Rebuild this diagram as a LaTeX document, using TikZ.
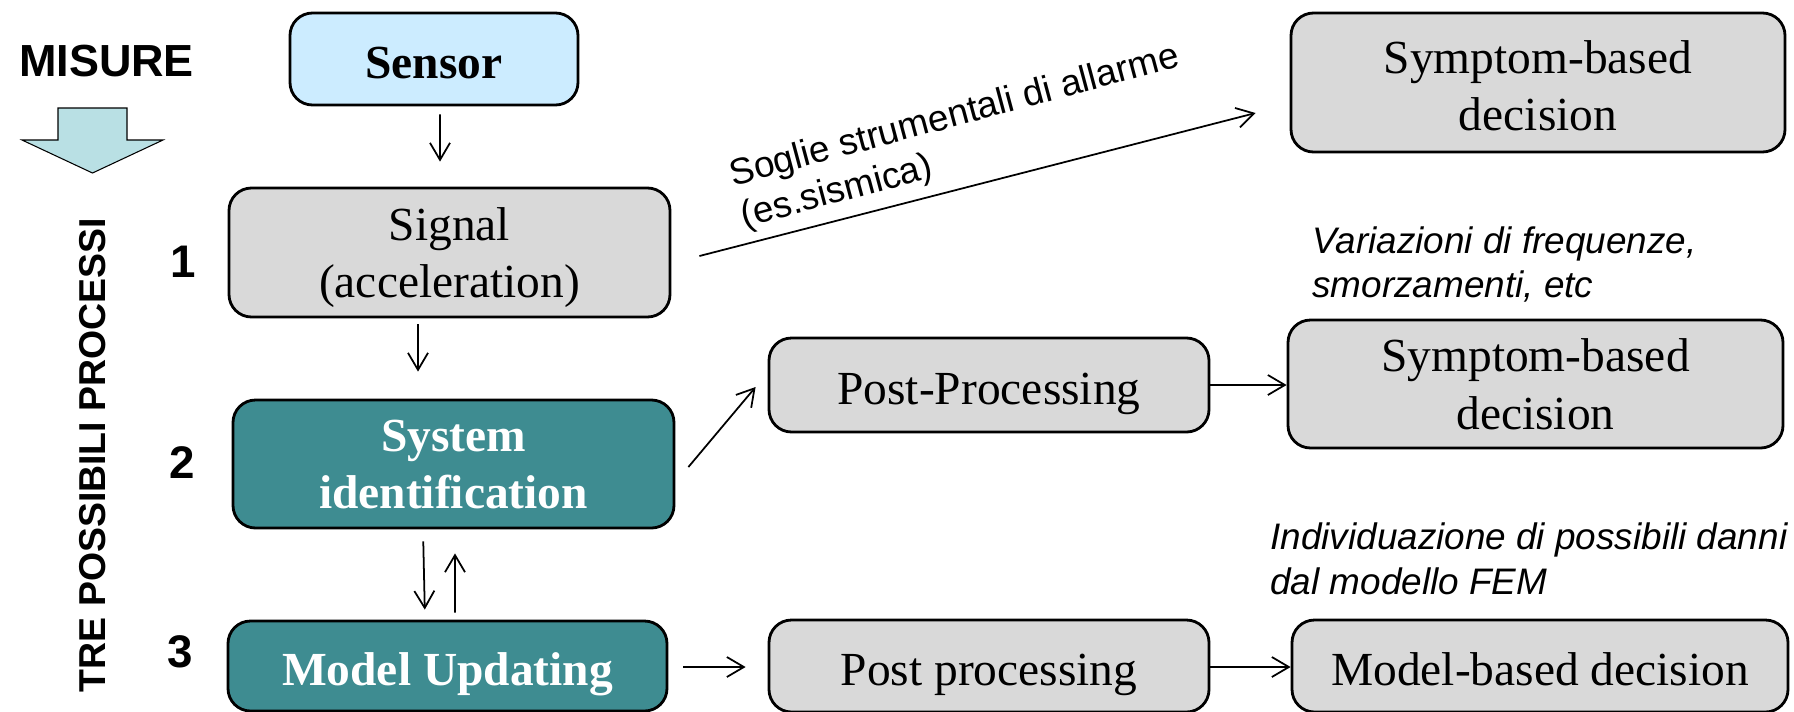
\documentclass[tikz,border=0pt]{standalone}
\usepackage{fontspec}
\setmainfont{Liberation Serif}
\setsansfont{Liberation Sans}
\usetikzlibrary{arrows.meta}

\definecolor{sensorblue}{RGB}{204,236,255}
\definecolor{boxgray}{RGB}{217,217,217}
\definecolor{idteal}{RGB}{62,140,145}
\definecolor{arrowcyan}{RGB}{185,224,228}

\begin{document}
\begin{tikzpicture}
\tikzset{box/.style={draw, line width=1.6pt, rounded corners=0.45cm, fill=boxgray, inner sep=0pt, align=center, text depth=0pt, font=\fontsize{27}{32.5}\selectfont},
  tealbox/.style={box, fill=idteal, text=white, font=\fontsize{27}{32.5}\selectfont\bfseries},
  oneline/.style={text height=0.76cm},
  note/.style={inner sep=0pt, align=left, font=\sffamily\fontsize{21}{24.5}\selectfont},
  notei/.style={note, font=\sffamily\itshape\fontsize{21}{25.5}\selectfont},
  num/.style={font=\sffamily\bfseries\fontsize{26}{30}\selectfont},
  link/.style={line width=1pt, -{Straight Barb[length=3.4mm,width=4mm]}}}
\path[use as bounding box] (0,0) rectangle (35.88,-14.22);
\clip (0,0) rectangle (35.88,-14.22);
%\draw[help lines] (0,-15) grid (36,0);

\node[num, font=\sffamily\bfseries\fontsize{25.6}{30}\selectfont] (misure) at (2.13,-1.22) {MISURE} ;
\draw[fill=arrowcyan, line width=0.6pt] (1.16,-2.16) -- (2.54,-2.16) -- (2.54,-2.80) -- (3.26,-2.80) -- (1.85,-3.46) -- (0.44,-2.80) -- (1.16,-2.80) -- cycle;
\node[rotate=90, font=\sffamily\bfseries\fontsize{21.3}{26}\selectfont] (tre) at (1.85,-9.1) {TRE POSSIBILI PROCESSI} ;

\node[num] (one) at (3.66,-5.24) {1} ;
\node[num] (two) at (3.64,-9.26) {2} ;
\node[num] (three) at (3.60,-13.03) {3} ;

\node[box, oneline, fill=sensorblue, font=\fontsize{27}{32.5}\selectfont\bfseries, minimum width=5.76cm, minimum height=1.84cm] (sensor) at (8.68,-1.18) {Sensor} ;
\node[box, minimum width=8.82cm, minimum height=2.58cm] (signal) at (8.99,-5.05) {Signal\\(acceleration)} ;
\node[tealbox, minimum width=8.82cm, minimum height=2.56cm] (sysid) at (9.07,-9.28) {System\\identification} ;
\node[tealbox, oneline, minimum width=8.78cm, minimum height=1.8cm] (updating) at (8.95,-13.32) {Model Updating} ;

\node[box, oneline, minimum width=8.8cm, minimum height=1.88cm] (postA) at (19.78,-7.70) {Post-Processing} ;
\node[box, oneline, minimum width=8.8cm, minimum height=1.84cm] (postB) at (19.78,-13.32) {Post processing} ;

\node[box, text height=1.92cm, minimum width=9.88cm, minimum height=2.78cm] (symptomA) at (30.76,-1.65) {Symptom-based\\decision} ;
\node[box, minimum width=9.9cm, minimum height=2.56cm] (symptomB) at (30.71,-7.68) {Symptom-based\\decision} ;
\node[box, oneline, minimum width=9.92cm, minimum height=1.84cm] (modeldec) at (30.80,-13.32) {Model-based decision} ;

\node[note, anchor=north west, rotate=15] (soglie) at (14.52,-3.2) {Soglie strumentali di allarme\\(es.sismica)} ;
\node[notei, anchor=north west] (variazioni) at (26.24,-4.52) {Variazioni di frequenze,\\smorzamenti, etc} ;
\node[notei, anchor=north west] (danni) at (25.4,-10.45) {Individuazione di possibili danni\\dal modello FEM} ;

\draw[link, shorten <=0.16cm, shorten >=0.5cm] ([xshift=0.12cm]sensor.south) to ([xshift=-0.19cm]signal.north);
\draw[link, shorten <=0.12cm, shorten >=0.54cm] ([xshift=-0.63cm]signal.south) to ([xshift=-0.71cm]sysid.north);
\draw[link, shorten <=0.24cm, shorten >=0.2cm] ([xshift=-0.61cm]sysid.south) to ([xshift=-0.45cm]updating.north);
\draw[link, shorten <=0.14cm, shorten >=0.48cm] ([xshift=0.15cm]updating.north) to ([xshift=0.03cm]sysid.south);
\draw[link] ([shift={(0.56cm,-0.07cm)}]signal.east) to ([shift={(-0.68cm,-0.61cm)}]symptomA.west);
\draw[link] ([shift={(0.26cm,-0.06cm)}]sysid.east) to ([shift={(-0.24cm,-0.04cm)}]postA.west);
\draw[link] (postA.east) to (postA.east -| symptomB.west);
\draw[link, shorten <=0.3cm, shorten >=0.44cm] ([yshift=-0.02cm]updating.east) to ([yshift=-0.02cm]postB.west);
\draw[link] ([yshift=-0.02cm]postB.east) to ([yshift=-0.02cm]modeldec.west);
\end{tikzpicture}
\end{document}
